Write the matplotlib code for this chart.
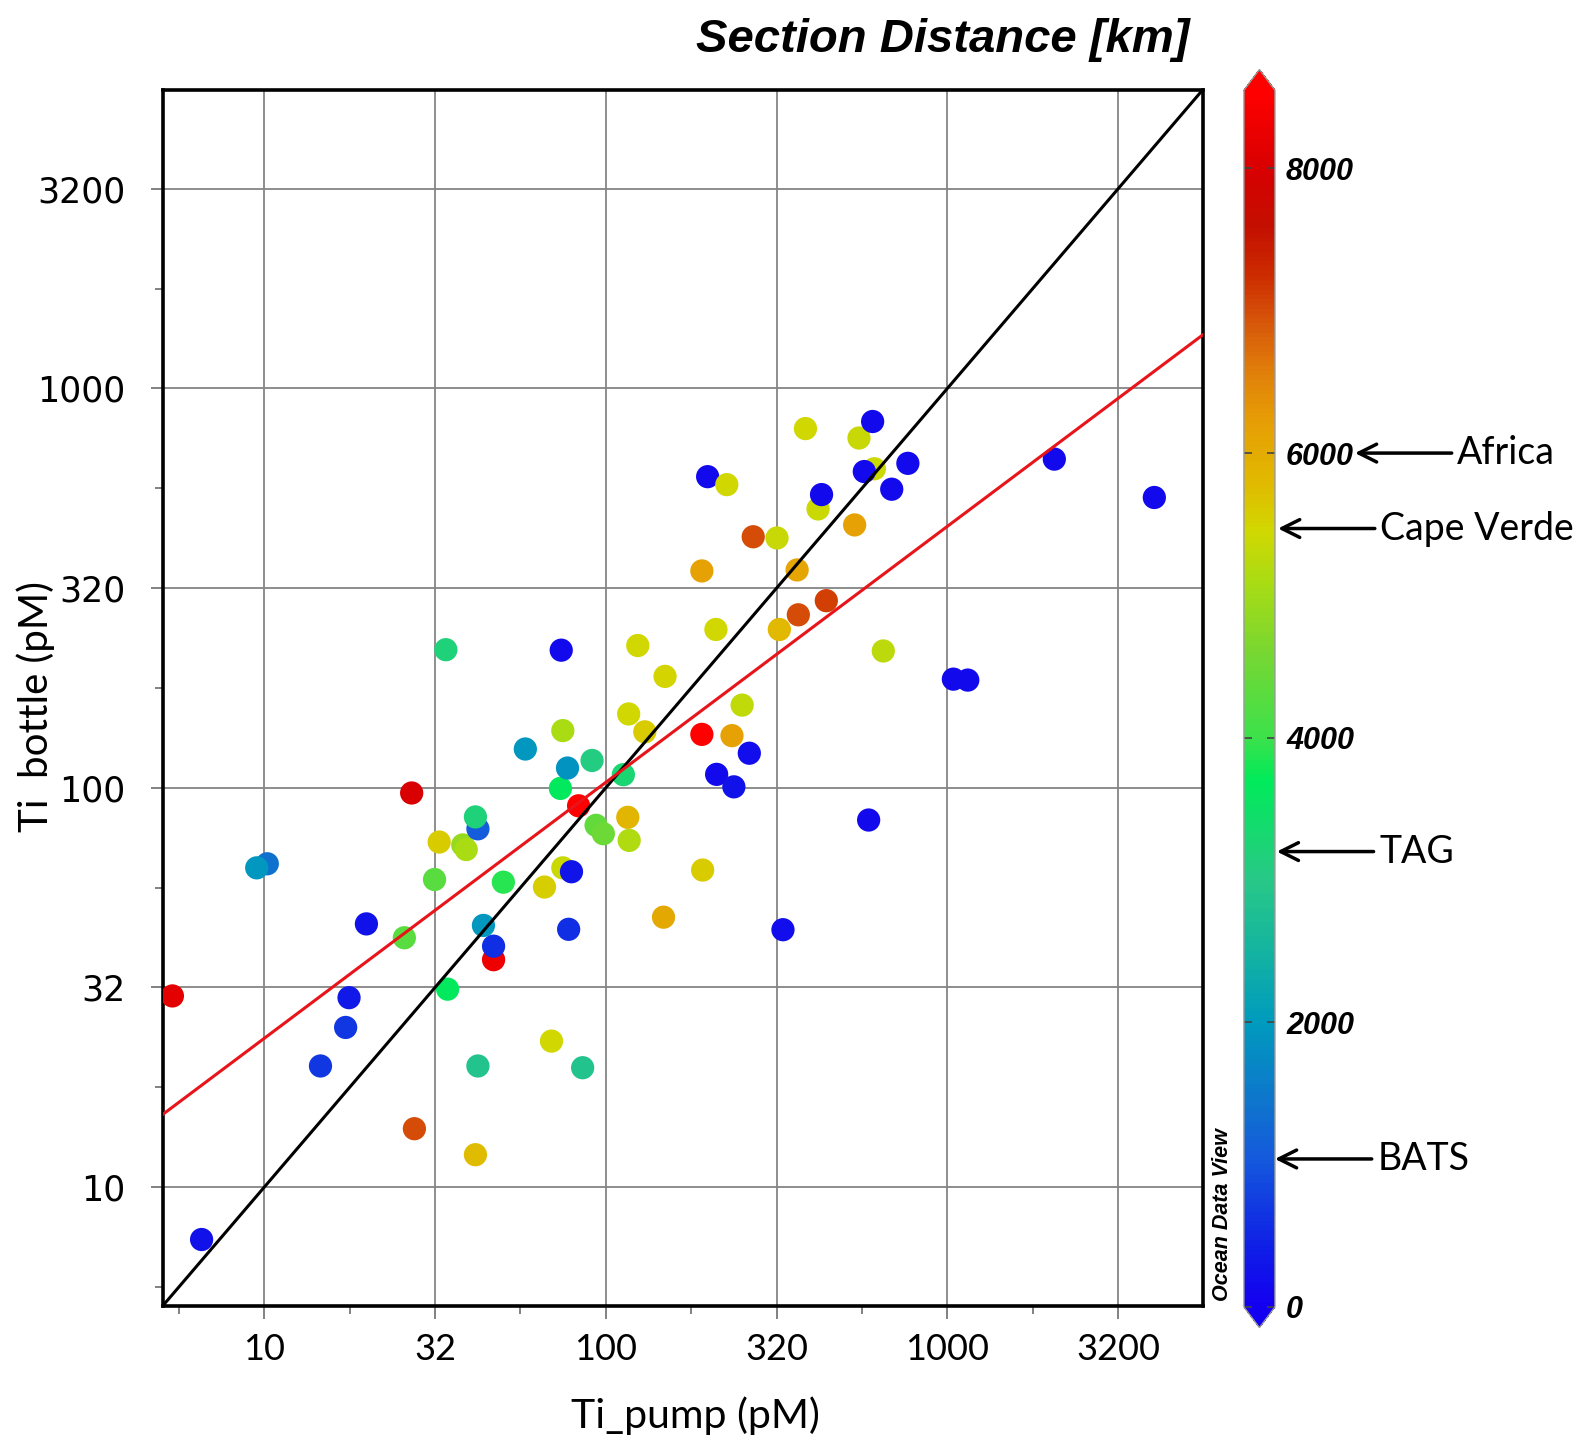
import numpy as np
import matplotlib
matplotlib.use("Agg")
import matplotlib.pyplot as plt
from matplotlib.colors import LinearSegmentedColormap, Normalize
from matplotlib.ticker import NullFormatter

# Ti pump vs Ti bottle (pM), colour = section distance (km)
ti_pump = [5.38, 6.55, 10.2, 9.5, 14.6, 17.3, 17.7, 19.9, 25.7, 27.0,
           27.5, 31.5, 32.5, 34.0, 34.4, 38.1, 39.0, 42.2, 41.5, 41.5,
           42.2, 43.8, 46.9, 46.9, 50.1, 58.1, 66.1, 69.3, 73.6, 74.0,
           74.8, 74.8, 79.3, 77.2, 77.8, 83.2, 85.5, 91.1, 93.6, 98.3,
           112.5, 115.9, 117, 116.6, 124, 130, 147.5, 149, 191, 191,
           192, 198.6, 210, 211, 226, 234, 237, 250.6, 263, 270,
           317, 322, 330, 363, 366, 384, 418, 428, 442, 535,
           551, 588, 604, 611, 571, 649, 687, 766, 1041, 1147,
           2056, 4035]
ti_bottle = [30.1, 7.39, 64.5, 63.0, 20.1, 25.1, 29.8, 45.6, 42.1, 97.0,
             14.0, 58.9, 73.1, 221.6, 31.3, 71.9, 70.0, 78.9, 84.5, 12.05,
             20.1, 45.2, 37.1, 40.1, 58.0, 125, 56.4, 23.2, 99.6, 221,
             139, 63.0, 61.6, 112, 44.2, 90.1, 19.9, 117, 80.5, 76.7,
             107.8, 84.3, 73.8, 153, 227, 138, 47.4, 190, 349, 136,
             62.2, 601, 249, 108, 574, 135, 100.5, 161, 122, 425,
             422, 249, 44.1, 351, 271, 793, 499, 542, 294, 455,
             751, 83, 826, 629, 619, 220, 559, 649, 187, 186,
             665, 533]
distance = [8150, 250, 1400, 1950, 700, 700, 350, 250, 4300, 8000,
            7000, 4300, 5600, 3200, 3650, 4900, 5100, 1100, 3200, 5750,
            2900, 1950, 8300, 600, 3900, 1950, 5550, 5450, 3650, 150,
            5100, 5400, 300, 1900, 600, 8500, 2900, 3100, 4400, 4500,
            3300, 5850, 5150, 5450, 5450, 5600, 6050, 5500, 6150, 8550,
            5600, 150, 5450, 150, 5450, 6150, 250, 5300, 200, 7000,
            5350, 5800, 200, 6100, 7000, 5450, 5400, 150, 7100, 6150,
            5350, 150, 150, 5400, 150, 5250, 150, 150, 150, 150,
            150, 150]

# log-log regression: bottle = a * pump^b
fit_a = 5.39
fit_b = 0.641

axis_lim = (5.05, 5600)
major_ticks = [10, 31.62, 100, 316.2, 1000, 3162]
major_labels = ['10', '32', '100', '320', '1000', '3200']
minor_ticks = [5.623, 17.78, 56.23, 177.8, 562.3, 1778]

cbar_max = 8550
cbar_ticks = [0, 2000, 4000, 6000, 8000]
cmap_values = [0, 400, 1040, 1400, 2000, 2500, 3000, 3200, 3700, 4000, 4600,
               5100, 5470, 5800, 6200, 6550, 6900, 7250, 7600, 8000, 8550]
cmap_colors = ['#1400f0', '#0f1ee6', '#145adc', '#0f73cd', '#009bbe', '#14b4a0',
               '#28c887', '#1ed278', '#00eb5a', '#3ce14b', '#78d732', '#aadc14',
               '#d2d700', '#e1b900', '#e6a005', '#e1820a', '#d75a0a', '#cd2d00',
               '#c30f00', '#d70000', '#ff0000']

station_names = ['Africa', 'Cape Verde', 'TAG', 'BATS']
station_km = [6000, 5470, 3200, 1040]

cmap = LinearSegmentedColormap.from_list(
    'odv', list(zip(np.array(cmap_values) / cbar_max, cmap_colors)))
norm = Normalize(vmin=0, vmax=cbar_max)

fig = plt.figure(figsize=(15.95, 14.54), dpi=100)
ax = fig.add_axes([0.1022, 0.1021, 0.652, 0.8363])

sc = ax.scatter(ti_pump, ti_bottle, c=distance, cmap=cmap, norm=norm,
                s=280, edgecolors='none', zorder=3)

ax.plot(axis_lim, axis_lim, color='black', lw=2.2, zorder=4)
xfit = np.array(axis_lim)
ax.plot(xfit, fit_a * xfit ** fit_b, color='#e8141a', lw=2.2, zorder=4)

ax.set_xscale('log')
ax.set_yscale('log')
ax.set_xlim(axis_lim)
ax.set_ylim(axis_lim)

for axis in (ax.xaxis, ax.yaxis):
    axis.set_ticks(major_ticks)
    axis.set_ticks(minor_ticks, minor=True)
    axis.set_minor_formatter(NullFormatter())
ax.set_xticklabels(major_labels, fontfamily='Lato', fontsize=26)
ax.set_yticklabels(major_labels, fontfamily='DejaVu Sans', fontsize=25)

ax.tick_params(which='both', direction='out', color='#777777', width=1.3)
ax.tick_params(which='major', length=9)
ax.tick_params(which='minor', length=6)
ax.tick_params(axis='x', which='major', pad=11)
ax.tick_params(axis='y', which='major', pad=18)

ax.grid(which='major', color='#858585', lw=1.3, zorder=1)
ax.set_axisbelow(True)
for sp in ax.spines.values():
    sp.set_linewidth(2.6)
    sp.set_color('black')

ax.set_xlabel('Ti_pump (pM)', fontfamily='Lato', fontsize=29.5, va='center')
ax.xaxis.set_label_coords(0.5115, -0.0909)
ax.set_ylabel('Ti  bottle (pM)', fontfamily='Lato', fontsize=29, va='center', ha='center')
ax.yaxis.set_label_coords(-0.1221, 0.4922)

# colour bar (axes box includes the extension triangles)
cax = fig.add_axes([0.7799, 0.0869, 0.01944, 0.8653])
cb = fig.colorbar(sc, cax=cax, extend='both', extendfrac=0.017, ticks=cbar_ticks)
cb.outline.set_edgecolor('#9a9a9a')
cb.outline.set_linewidth(1)
cax.tick_params(direction='in', length=6, color='#444444', width=1.2,
                left=True, right=True, pad=8)
cax.set_yticklabels([str(t) for t in cbar_ticks], fontfamily='Liberation Sans',
                    fontweight='bold', fontstyle='italic', fontsize=22)

fig.text(1190 / 1595, 1 - 40 / 1454, 'Section Distance [km]', ha='right', va='center',
         fontfamily='Liberation Sans', fontweight='bold', fontstyle='italic', fontsize=34)
fig.text(1223 / 1595, 1 - 1215 / 1454, 'Ocean Data View', rotation=90, ha='center',
         va='center', fontfamily='Liberation Sans', fontweight='bold',
         fontstyle='italic', fontsize=15.5)

tr = cax.get_yaxis_transform()
tip_x = [3.58, 1.1, 1.06, 1.0]
for name, km, tx in zip(station_names, station_km, tip_x):
    cax.annotate(name, xy=(tx, km), xycoords=tr, xytext=(tx + 3.3, km), textcoords=tr,
                 ha='left', va='center', fontfamily='Lato', fontsize=27,
                 arrowprops=dict(arrowstyle='->', color='black', lw=2.5,
                                 mutation_scale=32, shrinkA=2, shrinkB=0),
                 annotation_clip=False)

fig.savefig('out.png', dpi=100)
